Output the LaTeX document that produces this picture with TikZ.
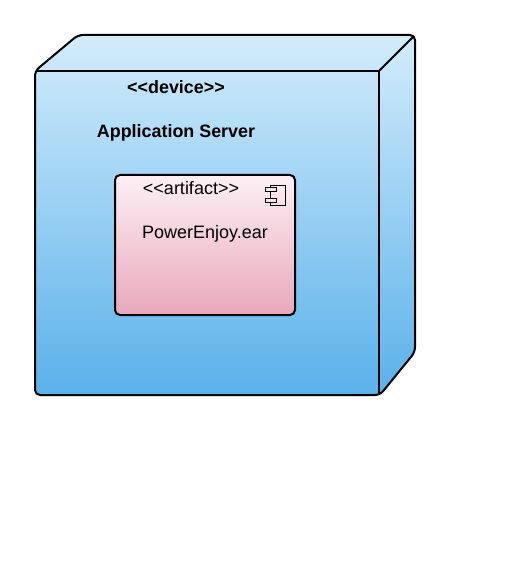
\documentclass[tikz,border=0pt]{standalone}
\usepackage{fontspec}
\setmainfont{Liberation Sans}
\definecolor{boxtop}{HTML}{D3ECFB}
\definecolor{boxbot}{HTML}{5AB1EA}
\definecolor{arttop}{HTML}{FDF0F4}
\definecolor{artbot}{HTML}{E8A8BC}
\tikzset{
  x=1pt,y=-1pt,
  edge/.style={draw=black,line width=2pt,line join=round},
  artbox/.style={draw=black,line width=2pt,rounded corners=5pt,rectangle,minimum width=180pt,minimum height=140pt,inner sep=0pt,top color=arttop,bottom color=artbot},
  bold/.style={font=\fontsize{17.9}{20}\selectfont\bfseries,inner sep=0pt},
  plain/.style={font=\fontsize{18}{20}\selectfont,inner sep=0pt},
  icon/.style={draw=black,line width=1pt}
}
\begin{document}
\begin{tikzpicture}
\useasboundingbox (0,0) rectangle (521,577);
\path[edge,top color=boxtop,bottom color=boxbot,rounded corners=5pt]
  (35,71) -- (78,35) -- (415,35) -- (415,352) -- (380,395) -- (35,395) -- cycle;
\coordinate (fl) at (36,71);
\coordinate (fr) at (379,71);
\coordinate (fb) at (379,394);
\coordinate (br) at (414,36);
\draw[edge] (fl) -- (fr);
\draw[edge] (fr) -- (fb);
\draw[edge] (fr) -- (br);
\node[bold] (dev) at (176,87.5) {<{}<device>{}>};
\node[bold] (name) at (176,132.5) {Application Server};
\node[artbox] (art) at (205,245) {};
\node[plain] (st) at (191,188.5) {<{}<artifact>{}>};
\node[plain] (an) at (205,233.5) {PowerEnjoy.ear};
\draw[icon] (270.5,187) -- (270.5,185.5) -- (285.5,185.5) -- (285.5,205.5) -- (270.5,205.5) -- (270.5,202);
\draw[icon] (270.5,191.5) -- (270.5,198);
\draw[icon] (265.5,187.5) rectangle (276,191.5);
\draw[icon] (265.5,198) rectangle (276,202);
\end{tikzpicture}
\end{document}
